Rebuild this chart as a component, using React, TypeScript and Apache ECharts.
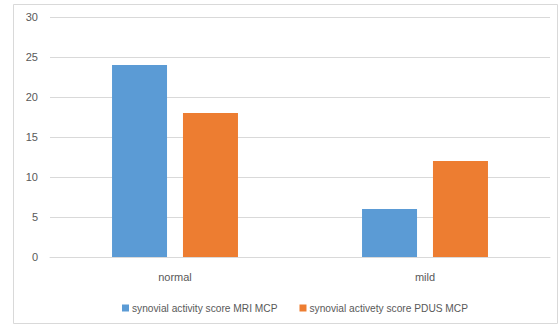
import React, { useEffect, useRef } from "react";
import * as echarts from "echarts";

const categories = ["normal", "mild"];
const seriesNames = ["synovial activity score MRI MCP", "synovial activety score PDUS MCP"];
const mriValues = [24, 6];
const pdusValues = [18, 12];

export default function App() {
  const ref = useRef<HTMLDivElement>(null);
  useEffect(() => {
    if (!ref.current) return;
    const chart = echarts.init(ref.current, null, { renderer: "svg" });
    const font = "Liberation Sans";
    chart.setOption({
      animation: false,
      backgroundColor: "#ffffff",
      graphic: [
        {
          type: "rect",
          shape: { x: 13.5, y: 4.5, width: 544, height: 319 },
          style: { fill: "none", stroke: "#d9d9d9", lineWidth: 1 },
          silent: true,
        },
      ],
      grid: { left: 50, right: 9, top: 17, bottom: 68, containLabel: false },
      legend: {
        left: 117,
        top: 298,
        itemWidth: 7,
        itemHeight: 7,
        itemGap: 22,
        icon: "rect",
        textStyle: { fontFamily: font, fontSize: 10.2, color: "#595959", padding: [0, 0, 0, -2] },
        data: seriesNames,
      },
      xAxis: {
        type: "category",
        data: categories,
        axisLine: { show: true, lineStyle: { color: "#d9d9d9" } },
        axisTick: { show: false },
        axisLabel: { fontFamily: font, fontSize: 11, color: "#595959", margin: 14 },
      },
      yAxis: {
        type: "value",
        min: 0,
        max: 30,
        interval: 5,
        axisLine: { show: false },
        axisTick: { show: false },
        splitLine: { lineStyle: { color: "#d9d9d9" } },
        axisLabel: { fontFamily: font, fontSize: 11, color: "#595959", margin: 12 },
      },
      series: [
        {
          name: seriesNames[0],
          type: "bar",
          data: mriValues,
          barWidth: 55,
          barGap: "29%",
          itemStyle: { color: "#5b9bd5" },
        },
        {
          name: seriesNames[1],
          type: "bar",
          data: pdusValues,
          barWidth: 55,
          itemStyle: { color: "#ed7d31" },
        },
      ],
    });
    return () => chart.dispose();
  }, []);
  return (
    <div
      ref={ref}
      style={{ position: "fixed", left: 0, top: 0, width: 559, height: 325, background: "#fff" }}
    />
  );
}
